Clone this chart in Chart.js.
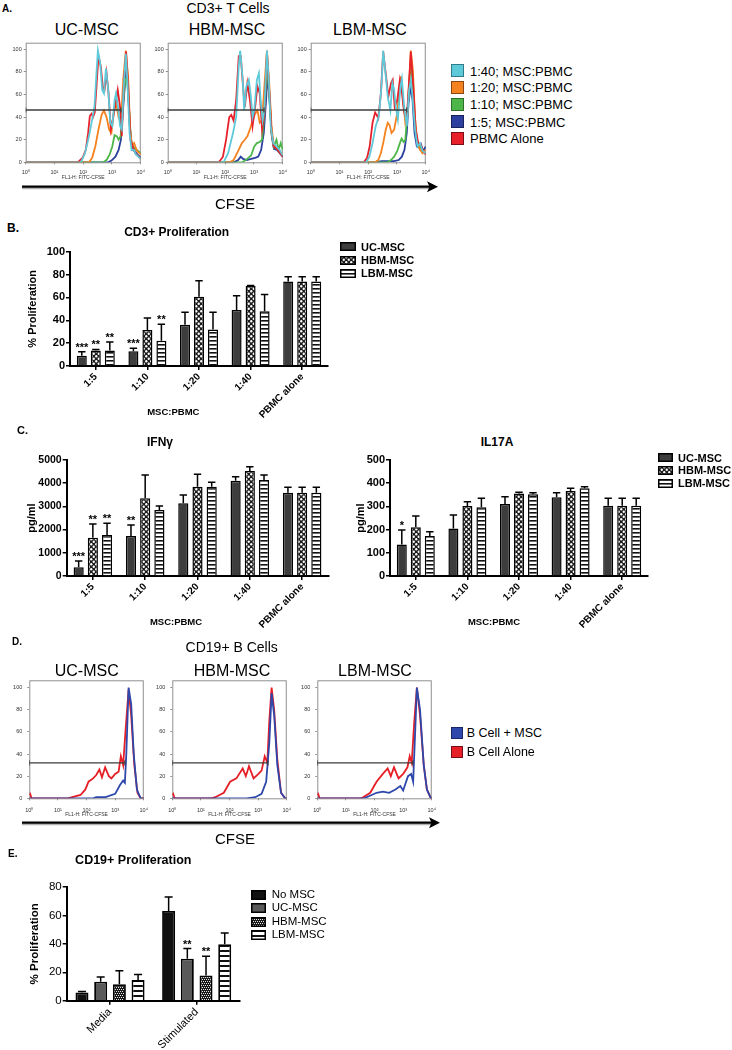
<!DOCTYPE html>
<html>
<head>
<meta charset="utf-8">
<title>MSC immunosuppression figure</title>
<script src="https://cdn.jsdelivr.net/npm/chart.js@4.4.1/dist/chart.umd.min.js"></script>
<style>
  html, body { margin:0; padding:0; background:#fff; }
  body { position:relative; width:732px; height:1050px; overflow:hidden; font-family:'Liberation Sans', Arial, Helvetica, sans-serif; color:#000; }
  canvas.c { position:absolute; }
  canvas.sw { position:absolute; }
  .t { position:absolute; white-space:nowrap; line-height:1; transform:translate(-50%,-50%); }
  .l { position:absolute; white-space:nowrap; line-height:1; transform:translateY(-50%); }
  .b { font-weight:bold; }
</style>
</head>
<body>

<svg style="position:absolute;left:0;top:0" width="732" height="1050">
  <line x1="22" y1="188.2" x2="430" y2="188.2" stroke="#000" stroke-opacity="0.3" stroke-width="2"/>
  <line x1="22" y1="186.7" x2="430" y2="186.7" stroke="#000" stroke-width="2.2"/>
  <polygon points="438,186.7 427,181.2 429.5,186.7 427,192.2" fill="#000"/>
  <line x1="22" y1="824.2" x2="432" y2="824.2" stroke="#000" stroke-opacity="0.3" stroke-width="2"/>
  <line x1="22" y1="822.7" x2="432" y2="822.7" stroke="#000" stroke-width="2.2"/>
  <polygon points="440,822.7 429,817.2 431.5,822.7 429,828.2" fill="#000"/>
</svg>

<!-- Panel A -->
<div class="l b" style="left:2px;top:9px;font-size:10px">A.</div>
<div class="t" style="left:228px;top:8px;font-size:14px">CD3+ T Cells</div>
<div class="t" style="left:86.7px;top:30px;font-size:16px">UC-MSC</div>
<div class="t" style="left:227px;top:30px;font-size:16px">HBM-MSC</div>
<div class="t" style="left:370px;top:30px;font-size:16px">LBM-MSC</div>
<canvas id="a1" class="c" width="150" height="150" style="left:0px;top:35px"></canvas>
<canvas id="a2" class="c" width="150" height="150" style="left:142px;top:35px"></canvas>
<canvas id="a3" class="c" width="150" height="150" style="left:285.3px;top:35px"></canvas>
<div class="t" style="left:235px;top:203px;font-size:15px">CFSE</div>
<canvas class="sw" id="swA0" width="13" height="13" style="left:451px;top:64.2px"></canvas>
<canvas class="sw" id="swA1" width="13" height="13" style="left:451px;top:80.8px"></canvas>
<canvas class="sw" id="swA2" width="13" height="13" style="left:451px;top:97.8px"></canvas>
<canvas class="sw" id="swA3" width="13" height="13" style="left:451px;top:115.2px"></canvas>
<canvas class="sw" id="swA4" width="13" height="13" style="left:451px;top:131.8px"></canvas>
<div class="l" style="left:470px;top:70.7px;font-size:13px">1:40; MSC:PBMC</div>
<div class="l" style="left:470px;top:87.3px;font-size:13px">1:20; MSC:PBMC</div>
<div class="l" style="left:470px;top:104.3px;font-size:13px">1:10; MSC:PBMC</div>
<div class="l" style="left:470px;top:121.7px;font-size:13px">1:5; MSC:PBMC</div>
<div class="l" style="left:470px;top:138.3px;font-size:13px">PBMC Alone</div>

<!-- Panel B -->
<div class="l b" style="left:7px;top:228px;font-size:12px">B.</div>
<div class="t b" style="left:176.7px;top:231.7px;font-size:12px">CD3+ Proliferation</div>
<canvas id="bChart" class="c" width="345" height="190" style="left:0px;top:240px"></canvas>
<div class="t b" style="left:173.3px;top:411.7px;font-size:9.5px">MSC:PBMC</div>
<canvas class="sw" id="swB0" width="16" height="9" style="left:340px;top:242.2px"></canvas>
<canvas class="sw" id="swB1" width="16" height="9" style="left:340px;top:255.5px"></canvas>
<canvas class="sw" id="swB2" width="16" height="9" style="left:340px;top:268.8px"></canvas>
<div class="l b" style="left:361px;top:246.7px;font-size:11px">UC-MSC</div>
<div class="l b" style="left:361px;top:260px;font-size:11px">HBM-MSC</div>
<div class="l b" style="left:361px;top:273.3px;font-size:11px">LBM-MSC</div>

<!-- Panel C -->
<div class="l b" style="left:17px;top:430px;font-size:11px">C.</div>
<div class="t b" style="left:160px;top:441.7px;font-size:12px">IFNγ</div>
<div class="t b" style="left:497px;top:441.7px;font-size:12px">IL17A</div>
<canvas id="cIfn" class="c" width="340" height="190" style="left:0px;top:448px"></canvas>
<canvas id="cIl17" class="c" width="340" height="190" style="left:320px;top:448px"></canvas>
<div class="t b" style="left:176px;top:621.7px;font-size:9.5px">MSC:PBMC</div>
<div class="t b" style="left:494px;top:621.7px;font-size:9.5px">MSC:PBMC</div>
<canvas class="sw" id="swC0" width="15" height="9" style="left:658px;top:453.2px"></canvas>
<canvas class="sw" id="swC1" width="15" height="9" style="left:658px;top:465.5px"></canvas>
<canvas class="sw" id="swC2" width="15" height="9" style="left:658px;top:478.8px"></canvas>
<div class="l b" style="left:678px;top:457.7px;font-size:11px">UC-MSC</div>
<div class="l b" style="left:678px;top:470px;font-size:11px">HBM-MSC</div>
<div class="l b" style="left:678px;top:483.3px;font-size:11px">LBM-MSC</div>

<!-- Panel D -->
<div class="l b" style="left:12px;top:642px;font-size:10px">D.</div>
<div class="t" style="left:231.7px;top:647.3px;font-size:14px">CD19+ B Cells</div>
<div class="t" style="left:86.7px;top:671px;font-size:16px">UC-MSC</div>
<div class="t" style="left:232px;top:671px;font-size:16px">HBM-MSC</div>
<div class="t" style="left:375px;top:671px;font-size:16px">LBM-MSC</div>
<canvas id="d1" class="c" width="155" height="150" style="left:0px;top:672px"></canvas>
<canvas id="d2" class="c" width="155" height="150" style="left:143px;top:672px"></canvas>
<canvas id="d3" class="c" width="155" height="150" style="left:288px;top:672px"></canvas>
<div class="t" style="left:235px;top:838px;font-size:15px">CFSE</div>
<canvas class="sw" id="swD0" width="12" height="12" style="left:451px;top:727.3px"></canvas>
<canvas class="sw" id="swD1" width="12" height="12" style="left:451px;top:745.7px"></canvas>
<div class="l" style="left:466.7px;top:733.3px;font-size:12.5px">B Cell + MSC</div>
<div class="l" style="left:466.7px;top:751.7px;font-size:12.5px">B Cell Alone</div>

<!-- Panel E -->
<div class="l b" style="left:8px;top:853.5px;font-size:10px">E.</div>
<div class="t b" style="left:133.3px;top:860px;font-size:12.5px">CD19+ Proliferation</div>
<canvas id="eChart" class="c" width="250" height="175" style="left:0px;top:875px"></canvas>
<canvas class="sw" id="swE0" width="15" height="10" style="left:250.7px;top:890px"></canvas>
<canvas class="sw" id="swE1" width="15" height="10" style="left:250.7px;top:903.3px"></canvas>
<canvas class="sw" id="swE2" width="15" height="10" style="left:250.7px;top:916.7px"></canvas>
<canvas class="sw" id="swE3" width="15" height="10" style="left:250.7px;top:930px"></canvas>
<div class="l" style="left:271.7px;top:895px;font-size:11.5px">No MSC</div>
<div class="l" style="left:271.7px;top:908.3px;font-size:11.5px">UC-MSC</div>
<div class="l" style="left:271.7px;top:921.7px;font-size:11.5px">HBM-MSC</div>
<div class="l" style="left:271.7px;top:935px;font-size:11.5px">LBM-MSC</div>

<script>
// ---------------- DATA ----------------
// Histogram x values are log10(CFSE) positions, y are % of max
const histTickLabels = ['10⁰', '10¹', '10²', '10³', '10⁴'];
const histAxisTitle = 'FL1-H: FITC-CFSE';

// Panel A: CD3+ T cells, UC-MSC
const aUc_1to40 = [[0,0],[1.92,0],[2.06,8],[2.2,23],[2.31,38],[2.39,49],[2.46,79],[2.51,99],[2.59,88],[2.66,64],[2.72,61],[2.79,83],[2.87,64],[2.94,35],[3.01,32],[3.09,55],[3.14,61],[3.21,49],[3.28,32],[3.34,29],[3.41,67],[3.48,96],[3.54,70],[3.61,26],[3.68,11],[3.76,11],[3.83,7],[4,3]];
const aUc_alone = [[0,0],[1.81,0],[1.98,4],[2.09,11],[2.17,26],[2.23,41],[2.29,43],[2.34,40],[2.4,44],[2.46,67],[2.53,94],[2.61,85],[2.68,67],[2.74,64],[2.81,79],[2.88,61],[2.96,29],[3.03,38],[3.12,52],[3.2,64],[3.28,49],[3.34,23],[3.42,73],[3.49,98],[3.57,64],[3.64,20],[3.72,14],[3.81,8],[4,3]];
const aUc_1to20 = [[0,0],[2.2,0],[2.31,4],[2.42,14],[2.53,29],[2.64,42],[2.72,46],[2.81,40],[2.9,29],[2.98,26],[3.06,44],[3.14,52],[3.23,40],[3.31,35],[3.39,73],[3.48,99],[3.56,76],[3.63,29],[3.7,14],[3.77,17],[3.87,10],[4,7]];
const aUc_1to10 = [[0,0],[2.7,0],[2.81,2],[2.92,7],[3.01,14],[3.09,24],[3.17,23],[3.23,20],[3.3,23],[3.37,49],[3.46,73],[3.52,75],[3.59,49],[3.66,20],[3.72,14],[3.81,12],[4,8]];
const aUc_1to5 = [[0,0],[2.87,0],[2.98,1.5],[3.12,5],[3.23,11],[3.31,20],[3.39,49],[3.48,79],[3.54,73],[3.62,32],[3.7,11],[3.79,10],[3.88,7],[4,4]];
// Panel A: HBM-MSC
const aHbm_1to40 = [[0,0],[1.94,0],[2.1,8],[2.27,26],[2.38,40],[2.47,85],[2.52,99],[2.6,76],[2.66,46],[2.73,67],[2.82,73],[2.88,61],[2.95,40],[3.01,46],[3.1,73],[3.17,79],[3.23,55],[3.3,37],[3.36,46],[3.45,99],[3.52,70],[3.58,32],[3.67,17],[3.78,14],[3.89,11],[4,6]];
const aHbm_alone = [[0,0],[1.78,0],[1.92,5],[2.03,20],[2.14,40],[2.21,42],[2.29,37],[2.38,55],[2.47,94],[2.54,94],[2.62,67],[2.68,49],[2.77,70],[2.86,55],[2.95,32],[3.04,49],[3.12,67],[3.2,61],[3.28,29],[3.36,43],[3.45,98],[3.53,64],[3.61,26],[3.69,14],[3.8,12],[4,5]];
const aHbm_1to20 = [[0,0],[2.16,0],[2.29,2],[2.43,9],[2.58,17],[2.68,20],[2.77,23],[2.87,30],[2.95,37],[3.04,43],[3.12,46],[3.2,35],[3.28,37],[3.36,67],[3.45,99],[3.53,70],[3.61,32],[3.69,14],[3.8,12],[3.91,9],[4,8]];
const aHbm_1to10 = [[0,0],[2.6,0],[2.76,3],[2.9,6],[3.01,14],[3.1,17],[3.2,18],[3.28,20],[3.36,43],[3.45,85],[3.53,61],[3.61,26],[3.69,14],[3.78,20],[3.86,11],[3.93,17],[4,11]];
const aHbm_1to5 = [[0,0],[2.3,0],[2.45,2],[2.54,5],[2.62,3],[2.75,2],[2.9,3],[3.04,4],[3.15,5],[3.25,11],[3.34,26],[3.42,55],[3.47,79],[3.54,55],[3.62,23],[3.69,12],[3.8,11],[4,5]];
// Panel A: LBM-MSC
const aLbm_1to40 = [[0,0],[1.93,0],[2.04,5],[2.15,17],[2.26,32],[2.37,41],[2.46,67],[2.52,99],[2.6,79],[2.68,58],[2.77,46],[2.84,70],[2.9,64],[2.96,49],[3.03,38],[3.12,67],[3.17,74],[3.25,49],[3.34,32],[3.42,64],[3.48,73],[3.54,58],[3.63,29],[3.71,14],[3.8,17],[3.89,10],[4,8]];
const aLbm_alone = [[0,0],[1.85,0],[1.96,4],[2.05,14],[2.15,35],[2.24,44],[2.29,42],[2.35,39],[2.44,61],[2.52,98],[2.62,76],[2.7,58],[2.79,70],[2.85,73],[2.92,49],[3.01,55],[3.1,73],[3.16,64],[3.25,44],[3.34,38],[3.43,76],[3.48,98],[3.56,70],[3.65,29],[3.74,17],[3.82,16],[3.91,10],[4,7]];
const aLbm_1to20 = [[0,0],[2.24,0],[2.35,2],[2.44,8],[2.52,17],[2.61,29],[2.68,35],[2.74,33],[2.81,26],[2.9,29],[2.99,41],[3.06,58],[3.14,76],[3.21,55],[3.29,35],[3.36,41],[3.43,73],[3.48,99],[3.55,82],[3.63,38],[3.71,17],[3.8,11],[3.89,8],[4,11]];
const aLbm_1to10 = [[0,0],[2.68,0],[2.79,2],[2.9,5],[3.01,10],[3.1,17],[3.16,21],[3.23,18],[3.29,20],[3.36,44],[3.43,73],[3.48,88],[3.55,67],[3.63,32],[3.71,17],[3.8,14],[3.89,10],[4,8]];
const aLbm_1to5 = [[0,0],[2.24,0],[2.46,1],[2.68,1],[2.9,1],[3.06,2],[3.17,5],[3.26,11],[3.34,26],[3.4,52],[3.47,67],[3.54,55],[3.61,26],[3.69,14],[3.76,13],[3.83,16],[3.91,10],[4,14]];
const aGateUc = [[0,46.3],[3.31,46.3]];
const aGateHbm = [[0,46.3],[3.35,46.3]];
const aGateLbm = [[0,46.3],[3.34,46.3]];

// Panel D: CD19+ B cells
const dUc_alone = [[0,3],[0.03,4],[0.08,0],[1.35,0],[1.5,1],[1.79,3],[1.96,8],[2.07,15],[2.23,18],[2.34,21],[2.45,26],[2.54,19],[2.65,28],[2.78,20],[2.87,18],[3.0,22],[3.12,24],[3.2,38],[3.28,30],[3.36,60],[3.47,98],[3.56,75],[3.67,30],[3.78,5],[3.89,0],[4,0]];
const dUc_msc = [[0,0],[2.23,0],[2.34,1],[2.67,1],[3.0,4],[3.17,12],[3.28,16],[3.34,14],[3.39,40],[3.47,100],[3.56,85],[3.65,40],[3.76,8],[3.89,0],[4,0]];
const dHbm_alone = [[0,3],[0.03,4],[0.08,0],[1.36,0],[1.5,1],[1.8,5],[2.02,15],[2.24,18],[2.46,27],[2.57,20],[2.68,29],[2.84,18],[3.01,22],[3.12,25],[3.23,38],[3.32,32],[3.39,70],[3.47,100],[3.56,80],[3.67,35],[3.8,5],[3.94,0],[4,0]];
const dHbm_msc = [[0,0],[2.6,0],[2.9,1],[3.12,4],[3.28,15],[3.39,50],[3.47,95],[3.56,75],[3.67,30],[3.8,5],[3.94,0],[4,0]];
const dLbm_alone = [[0,3],[0.03,4],[0.08,0],[1.52,0],[1.6,1],[1.85,5],[2.07,15],[2.29,22],[2.46,27],[2.57,20],[2.68,28],[2.84,18],[3.0,22],[3.15,28],[3.23,38],[3.3,32],[3.39,70],[3.48,100],[3.59,75],[3.72,30],[3.83,8],[3.97,0],[4,0]];
const dLbm_msc = [[0,0],[1.63,0],[1.9,3],[2.07,5],[2.29,6],[2.51,5],[2.73,8],[2.9,11],[3.0,7],[3.17,20],[3.28,22],[3.35,15],[3.42,60],[3.48,100],[3.59,80],[3.72,30],[3.83,8],[3.97,0],[4,0]];
const dGate = [[0,32],[3.34,32]];

// Panel B / C categories
const ratioLabels = ['1:5', '1:10', '1:20', '1:40', 'PBMC alone'];
const mscNames = ['UC-MSC', 'HBM-MSC', 'LBM-MSC'];

// Panel B: CD3+ proliferation (%)
const cd3Uc = [9, 13, 36, 49, 74];
const cd3Hbm = [13.5, 31.5, 60.5, 70, 74];
const cd3Lbm = [13.5, 22, 32, 48, 74];
const cd3UcSd = [3.5, 2.5, 11, 12.5, 4];
const cd3HbmSd = [1, 10.5, 14, 0.5, 4];
const cd3LbmSd = [7.5, 14.5, 15, 14.5, 4];
const cd3UcStars = ['***', '***', '', '', ''];
const cd3HbmStars = ['**', '', '', '', ''];
const cd3LbmStars = ['**', '**', '', '', ''];

// Panel C: IFN-gamma (pg/ml)
const ifnUc = [374, 1724, 3132, 4109, 3592];
const ifnHbm = [1652, 3348, 3851, 4526, 3592];
const ifnLbm = [1767, 2845, 3851, 4138, 3592];
const ifnUcSd = [273, 474, 359, 173, 230];
const ifnHbmSd = [590, 1005, 531, 187, 230];
const ifnLbmSd = [503, 172, 186, 215, 230];
const ifnUcStars = ['***', '**', '', '', ''];
const ifnHbmStars = ['**', '', '', '', ''];
const ifnLbmStars = ['**', '', '', '', ''];

// Panel C: IL17A (pg/ml)
const il17Uc = [136, 205, 310, 339, 303];
const il17Hbm = [210, 302, 356, 366, 303];
const il17Lbm = [172, 296, 352, 378, 303];
const il17UcSd = [62, 58, 32, 20, 32];
const il17HbmSd = [49, 18, 5, 12, 32];
const il17LbmSd = [19, 39, 7, 7, 32];
const il17UcStars = ['*', '', '', '', ''];

// Panel E: CD19+ proliferation (%)
const bCellLabels = ['Media', 'Stimulated'];
const eNoMsc = [5.8, 63.2];
const eUc = [13.3, 29.5];
const eHbm = [11.5, 17.8];
const eLbm = [14.5, 39.8];
const eNoMscSd = [0.7, 9.8];
const eUcSd = [3.3, 7.2];
const eHbmSd = [9.5, 13.5];
const eLbmSd = [4, 7.9];
const eUcStars = ['', '**'];
const eHbmStars = ['', '**'];

// ---------------- STYLE ----------------
const FONT = "'Liberation Sans', Arial, Helvetica, sans-serif";
Chart.defaults.font.family = FONT;
Chart.defaults.color = '#000';

const colCyan = '#5ec9d9', colOrange = '#f4821f', colGreen = '#4cb748', colBlue = '#2a3f9e', colRed = '#e8202a';
const colBlueD = '#2d47ab', colRedD = '#e61e26';

function makePattern(kind) {
  const c = document.createElement('canvas');
  let g;
  if (kind === 'dots') {
    c.width = 5; c.height = 5; g = c.getContext('2d');
    g.fillStyle = '#1c1c1c'; g.fillRect(0, 0, 5, 5);
    g.fillStyle = '#fff';
    g.beginPath(); g.ellipse(1.25, 1.25, 1.15, 1.25, 0, 0, Math.PI * 2); g.fill();
    g.beginPath(); g.ellipse(3.75, 3.75, 1.15, 1.25, 0, 0, Math.PI * 2); g.fill();
  } else if (kind === 'stripes4') {
    c.width = 4; c.height = 4; g = c.getContext('2d');
    g.fillStyle = '#fff'; g.fillRect(0, 0, 4, 4);
    g.fillStyle = '#111'; g.fillRect(0, 0, 4, 1.6);
  } else if (kind === 'stripes5') {
    c.width = 5; c.height = 5; g = c.getContext('2d');
    g.fillStyle = '#fff'; g.fillRect(0, 0, 5, 5);
    g.fillStyle = '#111'; g.fillRect(0, 0, 5, 2);
  } else if (kind === 'check') {
    c.width = 4; c.height = 4; g = c.getContext('2d');
    g.fillStyle = '#181818'; g.fillRect(0, 0, 4, 4);
    g.fillStyle = '#e8e8e8';
    g.fillRect(0, 0, 1, 1); g.fillRect(2, 0, 1, 1); g.fillRect(1, 2, 1, 1); g.fillRect(3, 2, 1, 1);
  }
  return c.getContext('2d').createPattern(c, 'repeat');
}
const fillUc = '#3d3d3d';
const fillHbm = makePattern('dots');
const fillLbm = makePattern('stripes4');
const fillENo = '#111111';
const fillEUc = '#5a5a5a';
const fillEHbm = makePattern('check');
const fillELbm = makePattern('stripes5');

// ---------------- PLUGINS ----------------
const framePlugin = {
  id: 'histFrame',
  beforeDatasetsDraw(chart) {
    const { ctx, chartArea: a } = chart;
    ctx.save();
    ctx.strokeStyle = '#8f8f8f'; ctx.lineWidth = 1;
    ctx.strokeRect(a.left + 0.5, a.top + 0.5, a.right - a.left - 1, a.bottom - a.top);
    ctx.restore();
  }
};

const errorBarPlugin = {
  id: 'errorBars',
  afterDatasetsDraw(chart, args, opts) {
    const ctx = chart.ctx, ys = chart.scales.y;
    chart.data.datasets.forEach((ds, i) => {
      const meta = chart.getDatasetMeta(i);
      meta.data.forEach((bar, j) => {
        const v = ds.data[j];
        const e = ds.sd ? ds.sd[j] : 0;
        const yTop = ys.getPixelForValue(v + e);
        const yVal = ys.getPixelForValue(v);
        ctx.save();
        ctx.strokeStyle = '#000';
        ctx.lineWidth = opts.lw;
        if (e > 0) {
          ctx.beginPath();
          ctx.moveTo(bar.x, yVal); ctx.lineTo(bar.x, yTop);
          ctx.moveTo(bar.x - opts.cap, yTop); ctx.lineTo(bar.x + opts.cap, yTop);
          ctx.stroke();
        }
        const s = ds.stars ? ds.stars[j] : '';
        if (s) {
          ctx.fillStyle = '#000';
          ctx.font = opts.starFont;
          ctx.textAlign = 'center';
          ctx.textBaseline = 'alphabetic';
          ctx.fillText(s, bar.x, yTop - opts.gap);
        }
        ctx.restore();
      });
    });
  }
};

// ---------------- HISTOGRAMS ----------------
function histChart(id, curves, gate, o) {
  const datasets = [{
    data: gate, borderColor: '#3c3c3c', borderWidth: 1.3,
    pointRadius: 2.6, pointStyle: 'line', rotation: 90,
    pointBorderColor: '#3c3c3c', pointBorderWidth: 1.2, pointBackgroundColor: '#3c3c3c'
  }];
  curves.forEach(cv => datasets.push({
    data: cv.data, borderColor: cv.color, borderWidth: 1.8, pointRadius: 0
  }));
  return new Chart(document.getElementById(id), {
    type: 'line',
    data: { datasets },
    options: {
      responsive: false, animation: false, events: [],
      layout: { padding: { top: o.pt, right: o.pr, left: 0, bottom: 0 } },
      plugins: { legend: { display: false }, tooltip: { enabled: false } },
      elements: { line: { tension: 0 } },
      scales: {
        x: {
          type: 'linear', min: 0, max: 4,
          ticks: { stepSize: 1, includeBounds: false, autoSkip: false, maxRotation: 0,
                   callback: v => histTickLabels[v] !== undefined ? histTickLabels[v] : '',
                   font: { size: 5.5 }, color: '#333', padding: o.xtp },
          grid: { drawOnChartArea: false, tickLength: 2, color: '#8f8f8f' },
          border: { display: false },
          title: { display: true, text: histAxisTitle, font: { size: 5 }, color: '#333', padding: { top: 0, bottom: o.xtb } },
          afterFit: s => { s.height = o.xh; }
        },
        y: {
          min: 0, max: o.ymax,
          ticks: { stepSize: 20, includeBounds: false, font: { size: 5.5 }, color: '#333', padding: o.ytp,
                   callback: v => (v <= 100.5 ? String(v) : '') },
          grid: { drawOnChartArea: false, tickLength: 2, color: '#8f8f8f' },
          border: { display: false },
          afterFit: s => { s.width = o.yw; }
        }
      }
    },
    plugins: [framePlugin]
  });
}

const optA = (pr) => ({ pt: 7.7, pr, xh: 22.7, yw: 25.7, ymax: 105.9, xtp: 5, xtb: 4.7, ytp: 2 });
histChart('a1', [
  { data: aUc_1to40, color: colCyan }, { data: aUc_alone, color: colRed }, { data: aUc_1to20, color: colOrange },
  { data: aUc_1to10, color: colGreen }, { data: aUc_1to5, color: colBlue }], aGateUc, optA(3.3));
histChart('a2', [
  { data: aHbm_1to40, color: colCyan }, { data: aHbm_alone, color: colRed }, { data: aHbm_1to20, color: colOrange },
  { data: aHbm_1to10, color: colGreen }, { data: aHbm_1to5, color: colBlue }], aGateHbm, optA(2.7));
histChart('a3', [
  { data: aLbm_1to40, color: colCyan }, { data: aLbm_alone, color: colRed }, { data: aLbm_1to20, color: colOrange },
  { data: aLbm_1to10, color: colGreen }, { data: aLbm_1to5, color: colBlue }], aGateLbm, optA(2.3));

const optD = (pr) => ({ pt: 8, pr, xh: 23.7, yw: 29.3, ymax: 106.6, xtp: 7, xtb: 4, ytp: 5 });
histChart('d1', [{ data: dUc_msc, color: colBlueD }, { data: dUc_alone, color: colRedD }], dGate, optD(5));
histChart('d2', [{ data: dHbm_msc, color: colBlueD }, { data: dHbm_alone, color: colRedD }], dGate, optD(4.7));
histChart('d3', [{ data: dLbm_msc, color: colBlueD }, { data: dLbm_alone, color: colRedD }], dGate, optD(4.7));

// ---------------- BAR CHARTS ----------------
function barChart(id, c) {
  return new Chart(document.getElementById(id), {
    type: 'bar',
    data: {
      labels: c.labels,
      datasets: c.series.map(s => ({
        label: s.name, data: s.values, sd: s.sd, stars: s.stars,
        backgroundColor: s.fill, borderColor: '#000', borderWidth: c.bw, borderSkipped: 'bottom',
        categoryPercentage: c.cp, barPercentage: c.bp
      }))
    },
    options: {
      responsive: false, animation: false, events: [],
      layout: { padding: { top: c.pt, right: c.pr, left: 0, bottom: 0 } },
      plugins: {
        legend: { display: false }, tooltip: { enabled: false },
        errorBars: { lw: 1.5, cap: c.cap, starFont: c.starFont, gap: 1 }
      },
      scales: {
        x: {
          grid: { display: true, offset: false, drawOnChartArea: false, drawTicks: true, tickLength: 4, color: '#000', lineWidth: 1.5 },
          border: { display: true, color: '#000', width: 2 },
          ticks: { color: '#000', font: c.xFont, minRotation: 45, maxRotation: 45, autoSkip: false, padding: 1 },
          afterFit: s => { s.height = c.xh; }
        },
        y: {
          min: 0, max: c.ymax,
          ticks: { stepSize: c.step, color: '#000', font: c.yFont, padding: 1, callback: v => String(v) },
          grid: { display: true, drawOnChartArea: false, drawTicks: true, tickLength: 4, color: '#000', lineWidth: 1.5 },
          border: { display: true, color: '#000', width: 2 },
          title: { display: true, text: c.yTitle, font: c.yTitleFont, color: '#000', padding: { top: c.titlePad, bottom: 0 } },
          afterFit: s => { s.width = c.yw; }
        }
      }
    },
    plugins: [errorBarPlugin]
  });
}

const boldTick = (sz) => ({ size: sz, weight: 'bold' });

barChart('bChart', {
  labels: ratioLabels,
  series: [
    { name: mscNames[0], values: cd3Uc, sd: cd3UcSd, stars: cd3UcStars, fill: fillUc },
    { name: mscNames[1], values: cd3Hbm, sd: cd3HbmSd, stars: cd3HbmStars, fill: fillHbm },
    { name: mscNames[2], values: cd3Lbm, sd: cd3LbmSd, stars: cd3LbmStars, fill: fillLbm }
  ],
  bw: 1.5, cp: 0.814, bp: 0.714, cap: 3.7, starFont: 'bold 11px ' + FONT,
  pt: 11.7, pr: 17, xh: 64, yw: 70, ymax: 100, step: 20,
  xFont: boldTick(10), yFont: boldTick(11), yTitle: '% Proliferation', yTitleFont: boldTick(11), titlePad: 26.7
});

barChart('cIfn', {
  labels: ratioLabels,
  series: [
    { name: mscNames[0], values: ifnUc, sd: ifnUcSd, stars: ifnUcStars, fill: fillUc },
    { name: mscNames[1], values: ifnHbm, sd: ifnHbmSd, stars: ifnHbmStars, fill: fillHbm },
    { name: mscNames[2], values: ifnLbm, sd: ifnLbmSd, stars: ifnLbmStars, fill: fillLbm }
  ],
  bw: 1.5, cp: 0.814, bp: 0.714, cap: 3.7, starFont: 'bold 11px ' + FONT,
  pt: 12, pr: 11.7, xh: 62, yw: 66.7, ymax: 5000, step: 1000,
  xFont: boldTick(10), yFont: boldTick(10.5), yTitle: 'pg/ml', yTitleFont: boldTick(11), titlePad: 25.1
});

barChart('cIl17', {
  labels: ratioLabels,
  series: [
    { name: mscNames[0], values: il17Uc, sd: il17UcSd, stars: il17UcStars, fill: fillUc },
    { name: mscNames[1], values: il17Hbm, sd: il17HbmSd, stars: null, fill: fillHbm },
    { name: mscNames[2], values: il17Lbm, sd: il17LbmSd, stars: null, fill: fillLbm }
  ],
  bw: 1.5, cp: 0.814, bp: 0.714, cap: 3.7, starFont: 'bold 11px ' + FONT,
  pt: 12, pr: 12, xh: 62, yw: 70, ymax: 500, step: 100,
  xFont: boldTick(10), yFont: boldTick(11), yTitle: 'pg/ml', yTitleFont: boldTick(11), titlePad: 34.4
});

barChart('eChart', {
  labels: bCellLabels,
  series: [
    { name: 'No MSC', values: eNoMsc, sd: eNoMscSd, stars: null, fill: fillENo },
    { name: 'UC-MSC', values: eUc, sd: eUcSd, stars: eUcStars, fill: fillEUc },
    { name: 'HBM-MSC', values: eHbm, sd: eHbmSd, stars: eHbmStars, fill: fillEHbm },
    { name: 'LBM-MSC', values: eLbm, sd: eLbmSd, stars: null, fill: fillELbm }
  ],
  bw: 1.8, cp: 0.863, bp: 0.695, cap: 4, starFont: 'bold 11px ' + FONT,
  pt: 12, pr: 10, xh: 49.3, yw: 66.7, ymax: 80, step: 20,
  xFont: { size: 11 }, yFont: { size: 11.5 }, yTitle: '% Proliferation', yTitleFont: boldTick(11.5), titlePad: 28
});

// ---------------- LEGEND SWATCHES ----------------
function swatch(id, fill, border, lw) {
  const cv = document.getElementById(id);
  const g = cv.getContext('2d');
  g.fillStyle = fill; g.fillRect(0, 0, cv.width, cv.height);
  g.strokeStyle = border; g.lineWidth = lw;
  g.strokeRect(lw / 2, lw / 2, cv.width - lw, cv.height - lw);
}
swatch('swA0', colCyan, '#2f7d8a', 1);
swatch('swA1', colOrange, '#8a4510', 1);
swatch('swA2', colGreen, '#2c6e2a', 1);
swatch('swA3', colBlue, '#17225a', 1);
swatch('swA4', colRed, '#7a1015', 1);
swatch('swB0', fillUc, '#000', 1.5);
swatch('swB1', fillHbm, '#000', 1.5);
swatch('swB2', fillLbm, '#000', 1.5);
swatch('swC0', fillUc, '#000', 1.5);
swatch('swC1', fillHbm, '#000', 1.5);
swatch('swC2', fillLbm, '#000', 1.5);
swatch('swD0', colBlueD, '#1a2766', 1);
swatch('swD1', colRedD, '#7a1015', 1);
swatch('swE0', fillENo, '#000', 1.5);
swatch('swE1', fillEUc, '#000', 1.5);
swatch('swE2', fillEHbm, '#000', 1.5);
swatch('swE3', fillELbm, '#000', 1.5);
</script>
</body>
</html>
